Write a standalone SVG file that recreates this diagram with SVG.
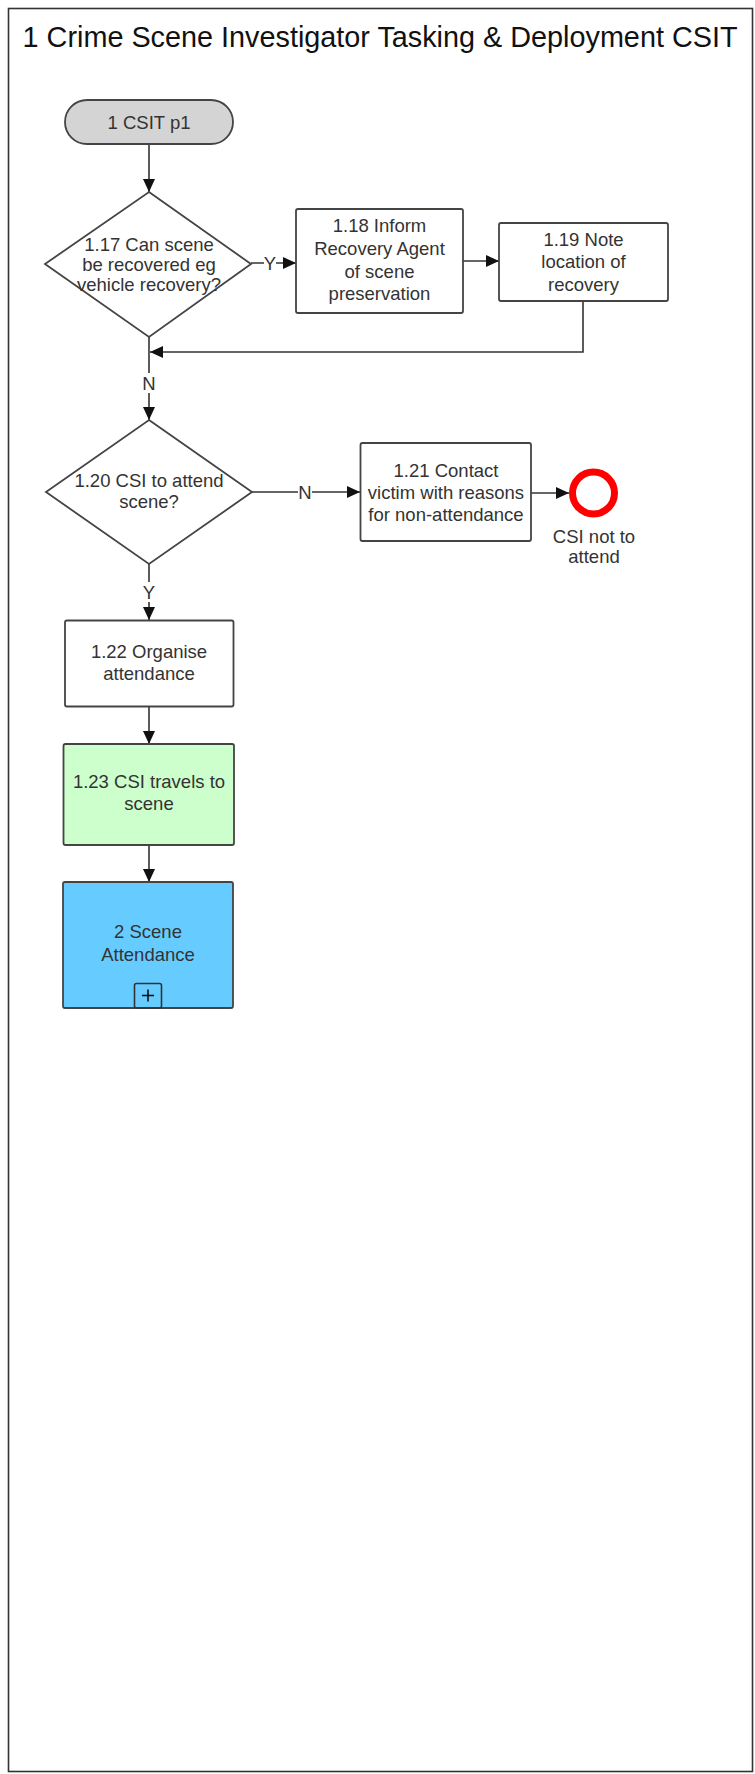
<svg xmlns="http://www.w3.org/2000/svg" width="755" height="1774" viewBox="0 0 755 1774">
<style>
text{font-family:"Liberation Sans",Arial,sans-serif;fill:#333;}
.t{font-size:18.5px;text-anchor:middle;}
.title{font-size:28.8px;fill:#111;}
.box{stroke:#444;stroke-width:1.8;fill:#fff;}
.ln{stroke:#333;stroke-width:1.6;fill:none;}
.lbl{font-size:18.5px;text-anchor:middle;}
</style>
<defs>
<marker id="ah" markerUnits="userSpaceOnUse" markerWidth="13" markerHeight="12" refX="13" refY="6" orient="auto">
<path d="M0,0 L13,6 L0,12 z" fill="#111"/>
</marker>
</defs>
<rect x="0" y="0" width="755" height="1774" fill="#fff"/>
<g id="frame">
<rect x="8.5" y="8.5" width="744" height="1763" fill="#fff" stroke="#333" stroke-width="1.6"/>
<text class="title" x="22.6" y="46.5">1 Crime Scene Investigator Tasking &amp; Deployment CSIT</text>
</g>
<g id="connectors">
<line class="ln" x1="149" y1="144" x2="149" y2="192" marker-end="url(#ah)"/>
<line class="ln" x1="251" y1="263" x2="296" y2="263" marker-end="url(#ah)"/>
<line class="ln" x1="463" y1="261" x2="499" y2="261" marker-end="url(#ah)"/>
<polyline class="ln" points="583,301 583,352 150,352" marker-end="url(#ah)"/>
<line class="ln" x1="149" y1="337" x2="149" y2="420" marker-end="url(#ah)"/>
<line class="ln" x1="252" y1="492" x2="360" y2="492" marker-end="url(#ah)"/>
<line class="ln" x1="531" y1="493" x2="569" y2="493" marker-end="url(#ah)"/>
<line class="ln" x1="149" y1="564" x2="149" y2="620" marker-end="url(#ah)"/>
<line class="ln" x1="149" y1="707" x2="149" y2="744" marker-end="url(#ah)"/>
<line class="ln" x1="149" y1="845" x2="149" y2="882" marker-end="url(#ah)"/>
<rect x="264" y="254" width="12" height="18" fill="#fff"/>
<text class="lbl" x="270" y="269.5">Y</text>
<rect x="143" y="373" width="12" height="20" fill="#fff"/>
<text class="lbl" x="149" y="389.5">N</text>
<rect x="298" y="482" width="14" height="20" fill="#fff"/>
<text class="lbl" x="305" y="498.5">N</text>
<rect x="143" y="582" width="12" height="20" fill="#fff"/>
<text class="lbl" x="149" y="598.5">Y</text>
</g>
<g id="n_start">
<rect x="65" y="100" width="168" height="44" rx="22" ry="22" fill="#d4d4d4" stroke="#444" stroke-width="1.8"/>
<text class="t" x="149" y="128.5">1 CSIT p1</text>
</g>
<g id="n_1_17">
<polygon class="box" points="149,192 251,264 149,337 45,264"/>
<text class="t" x="149" y="250.5">1.17 Can scene</text>
<text class="t" x="149" y="271">be recovered eg</text>
<text class="t" x="149" y="290.5">vehicle recovery?</text>
</g>
<g id="n_1_18">
<rect class="box" x="296" y="209" width="167" height="104" rx="2"/>
<text class="t" x="379.5" y="232">1.18 Inform</text>
<text class="t" x="379.5" y="255">Recovery Agent</text>
<text class="t" x="379.5" y="277.5">of scene</text>
<text class="t" x="379.5" y="300">preservation</text>
</g>
<g id="n_1_19">
<rect class="box" x="499" y="223" width="169" height="78" rx="2"/>
<text class="t" x="583.5" y="246">1.19 Note</text>
<text class="t" x="583.5" y="268">location of</text>
<text class="t" x="583.5" y="291">recovery</text>
</g>
<g id="n_1_20">
<polygon class="box" points="149,420 252,492 149,564 46,492"/>
<text class="t" x="149" y="486.5">1.20 CSI to attend</text>
<text class="t" x="149" y="508">scene?</text>
</g>
<g id="n_1_21">
<rect class="box" x="360.5" y="443" width="170.5" height="98" rx="2"/>
<text class="t" x="446" y="476.5">1.21 Contact</text>
<text class="t" x="446" y="498.5">victim with reasons</text>
<text class="t" x="446" y="520.5">for non-attendance</text>
</g>
<g id="n_end">
<circle cx="593.5" cy="493" r="21" fill="#fff" stroke="#f00" stroke-width="7"/>
<text class="t" x="594" y="542.5">CSI not to</text>
<text class="t" x="594" y="563">attend</text>
</g>
<g id="n_1_22">
<rect class="box" x="65" y="620.5" width="168.5" height="86" rx="2"/>
<text class="t" x="149" y="658">1.22 Organise</text>
<text class="t" x="149" y="680">attendance</text>
</g>
<g id="n_1_23">
<rect class="box" x="63.5" y="744" width="170.5" height="101" rx="2" style="fill:#ccffcc"/>
<text class="t" x="149" y="788">1.23 CSI travels to</text>
<text class="t" x="149" y="810">scene</text>
</g>
<g id="n_2">
<rect class="box" x="63" y="882" width="170" height="126" rx="2" style="fill:#66ccff"/>
<text class="t" x="148" y="938">2 Scene</text>
<text class="t" x="148" y="961">Attendance</text>
<rect x="134.5" y="983.5" width="27" height="24.5" rx="2" fill="none" stroke="#333" stroke-width="1.6"/>
<line x1="142" y1="995.5" x2="154" y2="995.5" stroke="#111" stroke-width="1.6"/>
<line x1="148" y1="989.5" x2="148" y2="1001.5" stroke="#111" stroke-width="1.6"/>
</g>
</svg>
